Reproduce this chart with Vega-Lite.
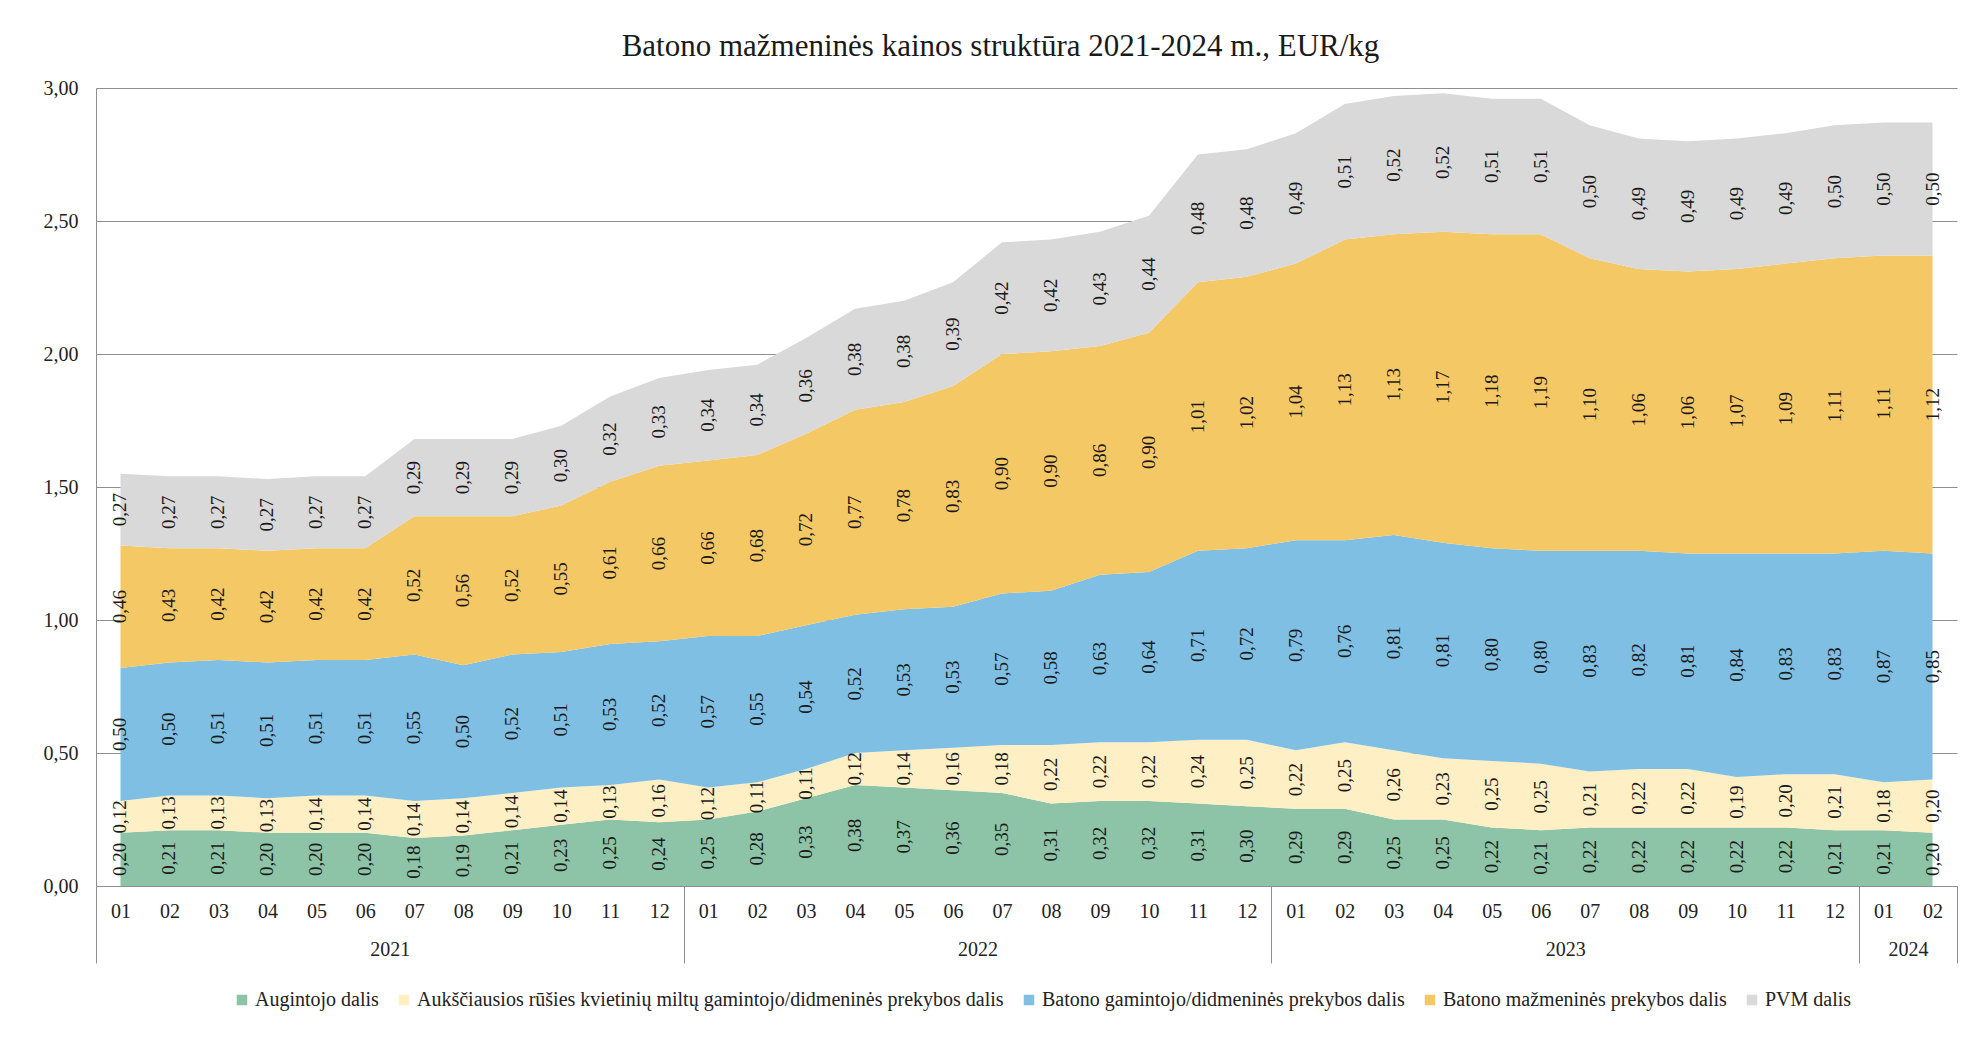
{
  "$schema": "https://vega.github.io/schema/vega-lite/v6.json",
  "autosize": "none",
  "width": 1861,
  "height": 798,
  "padding": {"left": 96, "top": 88, "right": 29, "bottom": 152},
  "background": "white",
  "title": {
    "text": "Batono mažmeninės  kainos struktūra 2021-2024 m., EUR/kg",
    "font": "Liberation Serif",
    "fontSize": 31,
    "fontWeight": "normal",
    "color": "#1a1a1a",
    "anchor": "middle",
    "dx": -26,
    "offset": 15
  },
  "config": {
    "view": {"stroke": null},
    "axis": {"labelFont": "Liberation Serif", "labelColor": "#222", "titleFont": "Liberation Serif"}
  },
  "data": {
    "values": [
      {"ym": "2021-01", "i": 1, "a": 0.20, "b": 0.12, "c": 0.50, "d": 0.46, "e": 0.27},
      {"ym": "2021-02", "i": 2, "a": 0.21, "b": 0.13, "c": 0.50, "d": 0.43, "e": 0.27},
      {"ym": "2021-03", "i": 3, "a": 0.21, "b": 0.13, "c": 0.51, "d": 0.42, "e": 0.27},
      {"ym": "2021-04", "i": 4, "a": 0.20, "b": 0.13, "c": 0.51, "d": 0.42, "e": 0.27},
      {"ym": "2021-05", "i": 5, "a": 0.20, "b": 0.14, "c": 0.51, "d": 0.42, "e": 0.27},
      {"ym": "2021-06", "i": 6, "a": 0.20, "b": 0.14, "c": 0.51, "d": 0.42, "e": 0.27},
      {"ym": "2021-07", "i": 7, "a": 0.18, "b": 0.14, "c": 0.55, "d": 0.52, "e": 0.29},
      {"ym": "2021-08", "i": 8, "a": 0.19, "b": 0.14, "c": 0.50, "d": 0.56, "e": 0.29},
      {"ym": "2021-09", "i": 9, "a": 0.21, "b": 0.14, "c": 0.52, "d": 0.52, "e": 0.29},
      {"ym": "2021-10", "i": 10, "a": 0.23, "b": 0.14, "c": 0.51, "d": 0.55, "e": 0.30},
      {"ym": "2021-11", "i": 11, "a": 0.25, "b": 0.13, "c": 0.53, "d": 0.61, "e": 0.32},
      {"ym": "2021-12", "i": 12, "a": 0.24, "b": 0.16, "c": 0.52, "d": 0.66, "e": 0.33},
      {"ym": "2022-01", "i": 13, "a": 0.25, "b": 0.12, "c": 0.57, "d": 0.66, "e": 0.34},
      {"ym": "2022-02", "i": 14, "a": 0.28, "b": 0.11, "c": 0.55, "d": 0.68, "e": 0.34},
      {"ym": "2022-03", "i": 15, "a": 0.33, "b": 0.11, "c": 0.54, "d": 0.72, "e": 0.36},
      {"ym": "2022-04", "i": 16, "a": 0.38, "b": 0.12, "c": 0.52, "d": 0.77, "e": 0.38},
      {"ym": "2022-05", "i": 17, "a": 0.37, "b": 0.14, "c": 0.53, "d": 0.78, "e": 0.38},
      {"ym": "2022-06", "i": 18, "a": 0.36, "b": 0.16, "c": 0.53, "d": 0.83, "e": 0.39},
      {"ym": "2022-07", "i": 19, "a": 0.35, "b": 0.18, "c": 0.57, "d": 0.90, "e": 0.42},
      {"ym": "2022-08", "i": 20, "a": 0.31, "b": 0.22, "c": 0.58, "d": 0.90, "e": 0.42},
      {"ym": "2022-09", "i": 21, "a": 0.32, "b": 0.22, "c": 0.63, "d": 0.86, "e": 0.43},
      {"ym": "2022-10", "i": 22, "a": 0.32, "b": 0.22, "c": 0.64, "d": 0.90, "e": 0.44},
      {"ym": "2022-11", "i": 23, "a": 0.31, "b": 0.24, "c": 0.71, "d": 1.01, "e": 0.48},
      {"ym": "2022-12", "i": 24, "a": 0.30, "b": 0.25, "c": 0.72, "d": 1.02, "e": 0.48},
      {"ym": "2023-01", "i": 25, "a": 0.29, "b": 0.22, "c": 0.79, "d": 1.04, "e": 0.49},
      {"ym": "2023-02", "i": 26, "a": 0.29, "b": 0.25, "c": 0.76, "d": 1.13, "e": 0.51},
      {"ym": "2023-03", "i": 27, "a": 0.25, "b": 0.26, "c": 0.81, "d": 1.13, "e": 0.52},
      {"ym": "2023-04", "i": 28, "a": 0.25, "b": 0.23, "c": 0.81, "d": 1.17, "e": 0.52},
      {"ym": "2023-05", "i": 29, "a": 0.22, "b": 0.25, "c": 0.80, "d": 1.18, "e": 0.51},
      {"ym": "2023-06", "i": 30, "a": 0.21, "b": 0.25, "c": 0.80, "d": 1.19, "e": 0.51},
      {"ym": "2023-07", "i": 31, "a": 0.22, "b": 0.21, "c": 0.83, "d": 1.10, "e": 0.50},
      {"ym": "2023-08", "i": 32, "a": 0.22, "b": 0.22, "c": 0.82, "d": 1.06, "e": 0.49},
      {"ym": "2023-09", "i": 33, "a": 0.22, "b": 0.22, "c": 0.81, "d": 1.06, "e": 0.49},
      {"ym": "2023-10", "i": 34, "a": 0.22, "b": 0.19, "c": 0.84, "d": 1.07, "e": 0.49},
      {"ym": "2023-11", "i": 35, "a": 0.22, "b": 0.20, "c": 0.83, "d": 1.09, "e": 0.49},
      {"ym": "2023-12", "i": 36, "a": 0.21, "b": 0.21, "c": 0.83, "d": 1.11, "e": 0.50},
      {"ym": "2024-01", "i": 37, "a": 0.21, "b": 0.18, "c": 0.87, "d": 1.11, "e": 0.50},
      {"ym": "2024-02", "i": 38, "a": 0.20, "b": 0.20, "c": 0.85, "d": 1.12, "e": 0.50}
    ]
  },
  "layer": [
    {
      "transform": [{"fold": ["a", "b", "c", "d", "e"], "as": ["k", "v"]}],
      "mark": {"type": "area", "interpolate": "linear"},
      "encoding": {
        "x": {
          "field": "i",
          "type": "quantitative",
          "scale": {"domain": [0.5, 38.5], "nice": false, "zero": false},
          "axis": {
            "orient": "bottom",
            "values": [1,2,3,4,5,6,7,8,9,10,11,12,13,14,15,16,17,18,19,20,21,22,23,24,25,26,27,28,29,30,31,32,33,34,35,36,37,38],
            "labelExpr": "((datum.value - 1) % 12 + 1) < 10 ? '0' + ((datum.value - 1) % 12 + 1) : '' + ((datum.value - 1) % 12 + 1)",
            "labelFontSize": 20,
            "labelPadding": 15,
            "labelFlush": false,
            "labelOverlap": false,
            "ticks": false,
            "tickSize": 0,
            "grid": false,
            "domain": true,
            "domainColor": "#8f8f8f",
            "title": null
          }
        },
        "y": {
          "field": "v",
          "type": "quantitative",
          "stack": "zero",
          "scale": {"domain": [0, 3], "nice": false},
          "title": null,
          "axis": {
            "values": [0, 0.5, 1, 1.5, 2, 2.5, 3],
            "labelExpr": "replace(format(datum.value, '.2f'), '.', ',')",
            "labelFontSize": 20,
            "labelPadding": 18,
            "ticks": false,
            "tickSize": 0,
            "grid": true,
            "gridColor": "#8f8f8f",
            "gridWidth": 1,
            "domain": true,
            "domainColor": "#8f8f8f",
            "title": null
          }
        },
        "order": {"field": "k", "type": "nominal", "sort": "ascending"},
        "color": {
          "field": "k",
          "type": "nominal",
          "scale": {
            "domain": ["a", "b", "c", "d", "e"],
            "range": ["#8DC3A6", "#FFEFC4", "#7FBFE3", "#F5C866", "#D9D9D9"]
          },
          "legend": {
            "orient": "none",
            "legendX": 136,
            "legendY": 902,
            "direction": "horizontal",
            "title": null,
            "symbolType": "square",
            "symbolSize": 110,
            "symbolStrokeWidth": 0,
            "labelFont": "Liberation Serif",
            "labelFontSize": 20,
            "labelColor": "#222",
            "labelLimit": 1200,
            "labelOffset": 3,
            "columnPadding": 15,
            "labelExpr": "{'a': 'Augintojo dalis', 'b': 'Aukščiausios rūšies kvietinių miltų gamintojo/didmeninės prekybos dalis', 'c': 'Batono gamintojo/didmeninės prekybos dalis', 'd': 'Batono mažmeninės prekybos dalis', 'e': 'PVM dalis'}[datum.label]"
          }
        }
      }
    },
    {
      "transform": [
        {"fold": ["a", "b", "c", "d", "e"], "as": ["k", "v"]},
        {"stack": "v", "groupby": ["i"], "sort": [{"field": "k", "order": "ascending"}], "as": ["v0", "v1"]},
        {"calculate": "(datum.v0 + datum.v1) / 2", "as": "mid"},
        {"calculate": "replace(format(datum.v, '.2f'), '.', ',')", "as": "lbl"}
      ],
      "mark": {"type": "text", "angle": 270, "align": "center", "baseline": "middle", "font": "Liberation Serif", "fontSize": 19, "color": "#1a1a1a"},
      "encoding": {
        "x": {"field": "i", "type": "quantitative", "axis": null},
        "y": {
          "field": "mid",
          "type": "quantitative",
          "title": null,
          "axis": {
            "values": [0, 0.5, 1, 1.5, 2, 2.5, 3],
            "labelExpr": "replace(format(datum.value, '.2f'), '.', ',')",
            "labelFontSize": 20,
            "labelPadding": 18,
            "ticks": false,
            "tickSize": 0,
            "grid": true,
            "gridColor": "#8f8f8f",
            "gridWidth": 1,
            "domain": true,
            "domainColor": "#8f8f8f",
            "title": null
          }
        },
        "text": {"field": "lbl"}
      }
    },
    {
      "mark": {"type": "rule", "opacity": 0},
      "encoding": {
        "x": {
          "field": "i",
          "type": "quantitative",
          "axis": {
            "orient": "bottom",
            "values": [6.5, 18.5, 30.5, 37.5],
            "labelExpr": "datum.value < 12 ? '2021' : datum.value < 24 ? '2022' : datum.value < 36 ? '2023' : '2024'",
            "labelFontSize": 20,
            "labelPadding": 53,
            "labelFlush": false,
            "labelOverlap": false,
            "ticks": false,
            "tickSize": 0,
            "grid": false,
            "domain": false,
            "title": null
          }
        }
      }
    },
    {
      "mark": {"type": "rule", "opacity": 0},
      "encoding": {
        "x": {
          "field": "i",
          "type": "quantitative",
          "axis": {
            "orient": "bottom",
            "values": [0.5, 12.5, 24.5, 36.5, 38.5],
            "labels": false,
            "ticks": true,
            "tickSize": 77,
            "tickColor": "#8f8f8f",
            "tickWidth": 1,
            "grid": false,
            "domain": false,
            "title": null
          }
        }
      }
    }
  ],
  "resolve": {"axis": {"x": "independent"}}
}
